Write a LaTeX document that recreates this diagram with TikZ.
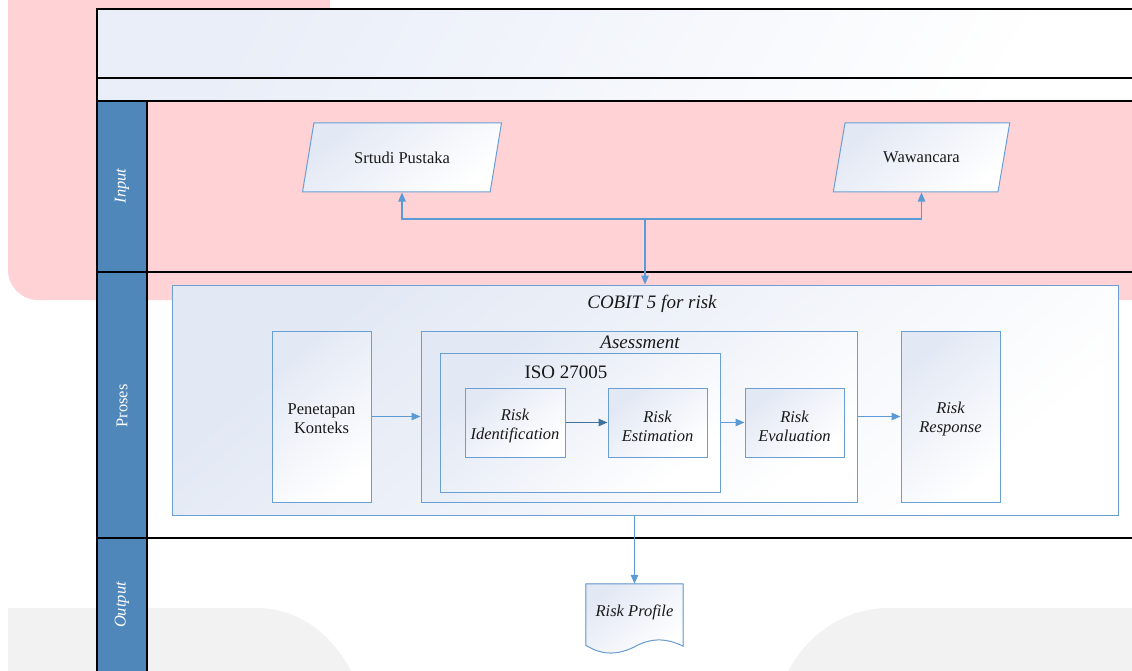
\documentclass[tikz,border=0pt]{standalone}
\usepackage{fontspec}
\setmainfont{Liberation Serif}
\usetikzlibrary{shapes.geometric,arrows.meta}
\definecolor{laneblue}{HTML}{4F87BA}
\definecolor{lineblue}{HTML}{6A9FD3}
\definecolor{arrowblue}{HTML}{5B9BD5}
\definecolor{darkarrow}{HTML}{41719C}
\definecolor{boxfill}{HTML}{E2E8F4}
\definecolor{headfill}{HTML}{E9EEF8}
\definecolor{wmpink}{HTML}{FFD2D5}
\definecolor{wmgray}{HTML}{F2F2F2}
\tikzset{
  poolline/.style={draw=black, line width=1.1pt},
  lanetext/.style={rotate=90, text=white, font=\fontsize{16.5}{18}\selectfont},
  procbox/.style={draw=lineblue, line width=1pt, top color=boxfill, bottom color=white,
    shading angle=40, align=center, inner sep=0pt, text=black!90,
    font=\fontsize{16.5}{19}\selectfont},
  inbox/.style={procbox, trapezium, trapezium left angle=62, trapezium right angle=118,
    trapezium stretches=true, minimum height=69},
  grouplabel/.style={font=\fontsize{19}{22}\selectfont\itshape, text=black!90},
  flow/.style={draw=arrowblue, line width=1.2pt, -{Triangle[length=9pt,width=7.5pt]}},
}
\begin{document}
\begin{tikzpicture}[x=1pt,y=-1pt]
    \useasboundingbox (0,0) rectangle (1132,671);

    \fill[wmpink] (1150,9) -- (1150,300) [rounded corners=30] -- (8,300) [sharp corners] -- (8,0) -- (330,0) -- (330,9) -- cycle;
    \fill[wmgray] (8,690) -- (8,608) -- (260,608) .. controls (305,610) and (340,640) .. (360,690) -- cycle;
    \fill[wmgray] (1150,608) -- (885,608) .. controls (835,610) and (795,645) .. (780,690) -- (1150,690) -- cycle;

    \fill[top color=headfill, bottom color=white, shading angle=60] (97,9) rectangle (1150,101);
    \fill[laneblue] (97,101) rectangle (147,690);
    \draw[poolline] (1150,9) -- (97,9) -- (97,690);
    \draw[poolline] (97,78) -- (1150,78);
    \draw[poolline] (97,101) -- (1150,101);
    \draw[poolline] (97,272) -- (1150,272);
    \draw[poolline] (97,538) -- (1150,538);
    \draw[poolline] (147,101) -- (147,690);

    \node (laneinput) [lanetext] at (122,186) {\itshape Input};
    \node (laneproses) [lanetext] at (122,406) {Proses};
    \node (laneoutput) [lanetext] at (122,605) {\itshape Output};

    \node (srtudi) [inbox, minimum width=199] at (402,157.5) {Srtudi Pustaka};
    \node (wawancara) [inbox, minimum width=177] at (921.5,157.5) {Wawancara};

    \node (cobit) [procbox, minimum width=946, minimum height=230] at (645,400) {};
    \node (cobitlabel) [grouplabel] at (652,304) {COBIT 5 for risk};
    \node (penetapan) [procbox, minimum width=99, minimum height=171, text height=35pt] at (321.5,416.5) {Penetapan\\Konteks};
    \node (asessment) [procbox, minimum width=436, minimum height=171] at (639,416.5) {};
    \node (aseslabel) [grouplabel] at (640,342) {Asessment};
    \node (iso) [procbox, minimum width=280, minimum height=139] at (580,422.5) {};
    \node (isolabel) [font=\fontsize{19}{22}\selectfont, text=black!90] at (566,372) {ISO 27005};
    \node (identification) [procbox, minimum width=100, minimum height=69, text height=38pt] at (515,422.5) {\itshape Risk\\\itshape Identification};
    \node (estimation) [procbox, minimum width=99, minimum height=69, text height=38pt] at (657.5,422.5) {\itshape Risk\\\itshape Estimation};
    \node (evaluation) [procbox, minimum width=99, minimum height=69, text height=38pt] at (794.5,422.5) {\itshape Risk\\\itshape Evaluation};
    \node (response) [procbox, minimum width=99, minimum height=171, text height=36pt] at (950.5,416.5) {\itshape Risk\\\itshape Response};

    \node (profile) [minimum width=97, minimum height=61, inner sep=0pt] at (634.5,614.5) {};
    \fill[top color=boxfill, bottom color=white, shading angle=40, draw=lineblue, line width=1pt]
        (profile.north west) -- (profile.south west)
        .. controls ([shift={(14,9)}]profile.south west) and ([shift={(29,11)}]profile.south west)
        .. ([shift={(48,2)}]profile.south west)
        .. controls ([shift={(64,-7)}]profile.south west) and ([shift={(79,-8)}]profile.south west)
        .. ([shift={(0,1)}]profile.south east) -- (profile.north east) -- cycle;
    \node (profiletext) [font=\fontsize{16.5}{19}\selectfont\itshape, text=black!90] at (634.5,612) {Risk Profile};

    \coordinate (split) at (645,219);
    \draw[flow] (split) -| (srtudi);
    \draw[flow] (split) -| (wawancara);
    \draw[flow] (split) -- (split |- cobit.north);

    \draw[flow] (penetapan) -- (asessment);
    \draw[flow, draw=darkarrow] (identification) -- (estimation);
    \draw[flow] (iso.east) -- (evaluation);
    \draw[flow] (asessment.east) -- (response.west);
    \draw[flow] (profile.north |- cobit.south) -- (profile.north);
\end{tikzpicture}
\end{document}
